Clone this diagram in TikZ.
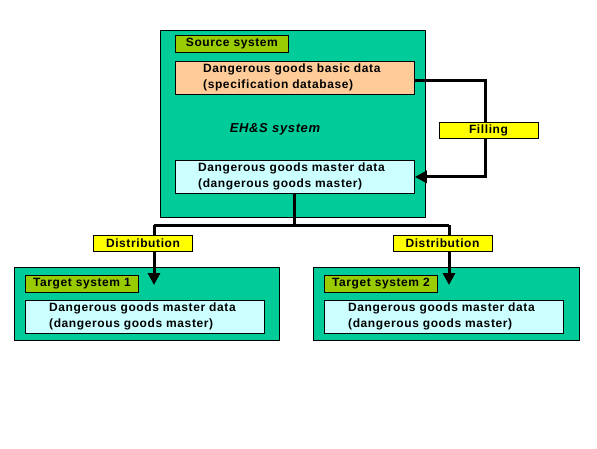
\documentclass[tikz,border=0pt]{standalone}
\usepackage{fontspec}
\setmainfont{Liberation Sans}[LetterSpace=5]
\usetikzlibrary{arrows.meta}
\definecolor{sysgreen}{HTML}{00CC99}
\definecolor{taggreen}{HTML}{99CC00}
\definecolor{peach}{HTML}{FFCC99}
\definecolor{paleCyan}{HTML}{CCFFFF}
\definecolor{labelYellow}{HTML}{FFFF00}
\begin{document}
\begin{tikzpicture}[x=1pt,y=-1pt,
  font=\bfseries\fontsize{12}{16}\selectfont,
  frame/.style={draw=black, line width=0.8pt, anchor=north west, inner sep=0pt},
  system/.style={frame, fill=sysgreen},
  tag/.style={frame, fill=taggreen, minimum width=113pt, minimum height=17pt},
  databox/.style={frame, minimum width=239pt, minimum height=33pt},
  datatext/.style={anchor=west, align=left, inner sep=0pt},
  flowlabel/.style={draw=black, line width=0.8pt, fill=labelYellow, inner sep=0pt, minimum width=99pt, minimum height=16pt},
  link/.style={line width=3pt, line join=miter},
  linkarrow/.style={link, -{Triangle[length=12pt,width=12pt]}}
]
\useasboundingbox (0,0) rectangle (597,448);

% Source system
\node[system, minimum width=265pt, minimum height=187pt] (src) at (160,30) {};
\node[tag] (srctag) at (175,35) {Source system};
\node[databox, fill=peach] (basic) at (175,61) {};
\node[datatext] (basictext) at (203,77.5) {Dangerous goods basic data\\(specification database)};
\node[databox, fill=paleCyan] (master) at (175,160) {};
\node[datatext] (mastertext) at (198,176.5) {Dangerous goods master data\\(dangerous goods master)};
\node[font=\bfseries\itshape\fontsize{13}{15}\selectfont] (ehs) at (275,129) {EH\&S system};

% Target systems
\node[system, minimum width=265pt, minimum height=73pt] (tgt1) at (14,267) {};
\node[tag] (tgt1tag) at (25,275) {Target system 1};
\node[databox, fill=paleCyan] (tgt1data) at (25,300) {};
\node[datatext] (tgt1text) at (49,316.5) {Dangerous goods master data\\(dangerous goods master)};

\node[system, minimum width=266pt, minimum height=73pt] (tgt2) at (313,267) {};
\node[tag] (tgt2tag) at (324,275) {Target system 2};
\node[databox, fill=paleCyan] (tgt2data) at (324,300) {};
\node[datatext] (tgt2text) at (348,316.5) {Dangerous goods master data\\(dangerous goods master)};

% Filling connector
\coordinate (fillx) at (485,0);
\coordinate (filly) at (0,80);
\draw[linkarrow] (basic.east |- filly) -- (fillx |- filly) -- (master.east -| fillx) -- (master.east);
\node[flowlabel] (filling) at (488.5,130) {Filling};

% Distribution connectors
\coordinate (bus) at (293,225);
\coordinate (d1) at (154,285);
\coordinate (d2) at (449,285);
\draw[link] (master.south) -- (master.south |- bus);
\draw[link] (bus -| d1) -- (bus -| d2);
\draw[linkarrow] (bus -| d1) -- (d1);
\draw[linkarrow] (bus -| d2) -- (d2);
\node[flowlabel] (dist1) at (143,243) {Distribution};
\node[flowlabel] (dist2) at (442.5,243) {Distribution};
\end{tikzpicture}
\end{document}
